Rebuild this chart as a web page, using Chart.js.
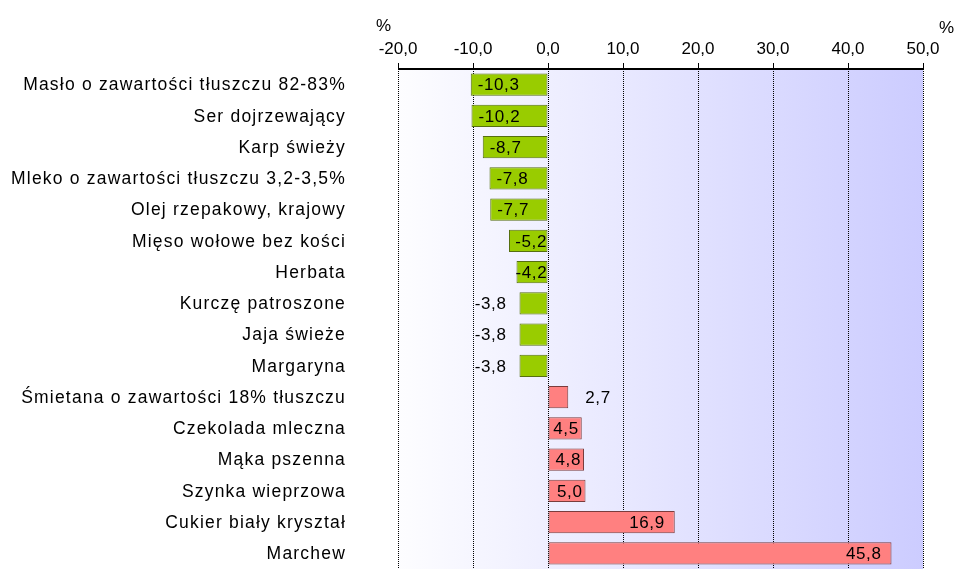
<!DOCTYPE html>
<html>
<head>
<meta charset="utf-8">
<script src="https://cdn.jsdelivr.net/npm/chart.js@4"></script>
<style>
  html, body { margin: 0; padding: 0; background: #fff; }
</style>
</head>
<body>
<canvas id="myChart" width="957" height="569"></canvas>
<script>
const products = [
  'Masło o zawartości tłuszczu 82-83%',
  'Ser dojrzewający',
  'Karp świeży',
  'Mleko o zawartości tłuszczu 3,2-3,5%',
  'Olej rzepakowy, krajowy',
  'Mięso wołowe bez kości',
  'Herbata',
  'Kurczę patroszone',
  'Jaja świeże',
  'Margaryna',
  'Śmietana o zawartości 18% tłuszczu',
  'Czekolada mleczna',
  'Mąka pszenna',
  'Szynka wieprzowa',
  'Cukier biały kryształ',
  'Marchew'
];
const changes = [-10.3, -10.2, -8.7, -7.8, -7.7, -5.2, -4.2, -3.8, -3.8, -3.8, 2.7, 4.5, 4.8, 5.0, 16.9, 45.8];
const xTicks = [-20, -10, 0, 10, 20, 30, 40, 50];
const unitLabel = '%';

const FONT = 'Arial, "Liberation Sans", sans-serif';
const fmt = v => v.toFixed(1).replace('.', ',');

// gradient background + unit labels + axis line
const bgPlugin = {
  id: 'bg',
  beforeDraw(chart) {
    const a = chart.chartArea, c = chart.ctx;
    const g = c.createLinearGradient(a.left, 0, a.right, 0);
    g.addColorStop(0, '#fdfdff');
    g.addColorStop(1, '#ccccff');
    c.save();
    c.fillStyle = g;
    c.fillRect(a.left, a.top, a.right - a.left, a.bottom - a.top);
    c.restore();
  },
  afterDraw(chart) {
    const c = chart.ctx, a = chart.chartArea;
    c.save();
    c.fillStyle = '#000';
    c.font = '17px ' + FONT;
    c.textBaseline = 'alphabetic';
    c.textAlign = 'left';
    c.fillText(unitLabel, 376, 31);
    c.fillText(unitLabel, 939, 33);
    c.strokeStyle = '#000';
    c.lineWidth = 2;
    c.beginPath();
    c.moveTo(a.left, a.top);
    c.lineTo(a.right, a.top);
    c.stroke();

    // category names, drawn here to get the wider spacing
    const y = chart.scales.y;
    c.font = '17.5px ' + FONT;
    c.letterSpacing = '1.2px';
    c.textAlign = 'right';
    c.textBaseline = 'middle';
    products.forEach((p, i) => {
      c.fillText(p, 346, y.getPixelForValue(i) + 1);
    });
    c.restore();
  }
};

// value labels next to / inside bars
const labelPlugin = {
  id: 'vals',
  afterDatasetsDraw(chart) {
    const c = chart.ctx;
    const meta = chart.getDatasetMeta(0);
    const x0 = chart.scales.x.getPixelForValue(0);
    c.save();
    c.font = '17px ' + FONT;
    c.letterSpacing = '0.6px';
    c.fillStyle = '#000';
    c.textBaseline = 'middle';
    meta.data.forEach((bar, i) => {
      const v = changes[i];
      const t = fmt(v);
      const tw = c.measureText(t).width;
      const bw = Math.abs(bar.x - x0);
      const y = bar.y + 1;
      if (v < 0) {
        if (bw < tw - 2) {
          c.textAlign = 'right';
          c.fillText(t, bar.x - 13, y);
        } else {
          const pad = Math.max(-1, Math.min(7, bw - tw - 1));
          c.textAlign = 'left';
          c.fillText(t, bar.x + pad, y);
        }
      } else {
        if (bw < tw) {
          c.textAlign = 'left';
          c.fillText(t, bar.x + 17, y);
        } else {
          c.textAlign = 'right';
          c.fillText(t, bar.x - (bw > 60 ? 10 : 3), y);
        }
      }
    });
    c.restore();
  }
};

const data = {
  labels: products,
  datasets: [{
    data: changes,
    backgroundColor: changes.map(v => v < 0 ? '#99cc00' : '#ff8080'),
    borderColor: changes.map(v => v < 0 ? '#566f10' : '#7a3c3c'),
    borderWidth: 1,
    borderSkipped: false,
    barPercentage: 0.71,
    categoryPercentage: 1
  }]
};

const config = {
  type: 'bar',
  data: data,
  options: {
    indexAxis: 'y',
    responsive: false,
    animation: false,
    layout: { padding: { top: 0, right: 34, bottom: -4, left: 0 } },
    plugins: {
      legend: { display: false },
      tooltip: { enabled: false }
    },
    scales: {
      x: {
        position: 'top',
        min: -20,
        max: 50,
        afterBuildTicks(scale) {
          scale.ticks = xTicks.map(v => ({ value: v }));
        },
        afterFit(scale) { scale.height = 69; },
        grid: {
          color: '#000',
          lineWidth: 1,
          tickLength: 6
        },
        border: { display: false, dash: [1, 1] },
        ticks: {
          color: '#000',
          font: { family: FONT, size: 17 },
          padding: 3,
          callback: v => fmt(v)
        }
      },
      y: {
        afterFit(scale) { scale.width = 398; },
        grid: { display: false },
        border: { display: false },
        ticks: { display: false }
      }
    }
  },
  plugins: [bgPlugin, labelPlugin]
};

const myChart = new Chart(document.getElementById('myChart').getContext('2d'), config);
</script>
</body>
</html>
